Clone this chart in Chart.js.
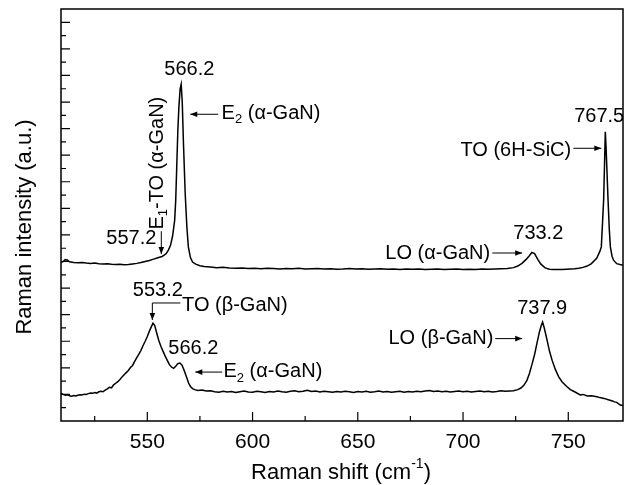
<!DOCTYPE html>
<html>
<head>
<meta charset="utf-8">
<script src="https://cdn.jsdelivr.net/npm/chart.js@4.4.1/dist/chart.umd.min.js"></script>
<style>
  html, body { margin: 0; padding: 0; background: #fff; }
  #wrap { width: 628px; height: 485px; }
</style>
</head>
<body>
<div id="wrap"><canvas id="ramanChart"></canvas></div>
<script>
// Espectro superior (alpha-GaN sobre 6H-SiC)
const upperShift = [
  509, 510, 511, 512, 513, 515, 517, 519, 521, 523,
  525, 527, 529, 531, 533, 535, 537, 539, 541, 543,
  545, 547, 549, 551, 553, 555, 557, 558, 559, 560,
  561, 562, 562.5, 563, 563.5, 564, 564.5, 565, 565.6, 566.1,
  566.6, 567.2, 568, 568.8, 569.5, 570.5, 571.5, 573, 575, 577,
  580, 583, 586, 589, 592, 595, 598, 601, 604, 607,
  610, 613, 616, 619, 622, 625, 628, 631, 634, 637,
  640, 643, 646, 649, 652, 655, 658, 661, 664, 667,
  670, 673, 676, 679, 682, 685, 688, 691, 694, 697,
  700, 703, 706, 709, 712, 715, 718, 721, 724, 726,
  728, 730, 731.5, 732.7, 734, 735.5, 737, 739, 741, 743,
  745, 747, 749, 751, 753, 755, 757, 759, 761, 763.5,
  765, 765.7, 766.3, 766.8, 767.3, 767.6, 768.0, 768.9, 769.5, 770,
  770.8, 771.5, 773, 776
];
const upperIntensity = [
  5.97, 6.00, 6.07, 6.06, 5.99, 5.96, 5.95, 5.96, 5.94, 5.93,
  5.94, 5.92, 5.91, 5.92, 5.90, 5.89, 5.90, 5.88, 5.89, 5.91,
  5.93, 5.96, 6.00, 6.04, 6.09, 6.14, 6.19, 6.24, 6.30, 6.43,
  6.60, 6.95, 7.25, 7.55, 8.30, 9.60, 10.90, 11.80, 12.50, 12.67,
  12.00, 10.40, 8.57, 7.30, 6.55, 6.15, 5.98, 5.90, 5.84, 5.81,
  5.79, 5.77, 5.78, 5.76, 5.75, 5.76, 5.74, 5.75, 5.73, 5.75,
  5.74, 5.72, 5.74, 5.73, 5.75, 5.72, 5.73, 5.74, 5.72, 5.73,
  5.71, 5.72, 5.74, 5.72, 5.73, 5.71, 5.72, 5.73, 5.71, 5.72,
  5.70, 5.72, 5.71, 5.72, 5.70, 5.71, 5.72, 5.70, 5.71, 5.72,
  5.70, 5.71, 5.70, 5.72, 5.71, 5.72, 5.73, 5.74, 5.77, 5.83,
  5.93, 6.08, 6.22, 6.34, 6.30, 6.08, 5.90, 5.76, 5.71, 5.70,
  5.70, 5.70, 5.71, 5.72, 5.73, 5.75, 5.78, 5.83, 5.92, 6.12,
  6.38, 6.55, 7.50, 8.31, 9.90, 10.88, 10.20, 8.31, 7.20, 6.55,
  6.20, 6.05, 5.92, 5.86
];

// Espectro inferior (beta-GaN)
const lowerShift = [
  509, 510, 511, 512, 513, 514, 515, 516, 517, 518,
  519, 520, 521, 522, 523, 524, 525, 526, 527, 528,
  529, 530, 531, 532, 533, 534, 535, 536, 537, 538,
  539, 540, 541, 542, 543, 544, 545, 546, 547, 548,
  549, 550, 551, 552, 552.7, 553.5, 554.5, 555.5, 556.5, 557.5,
  558.5, 559.5, 560.5, 561.5, 562.5, 563.5, 564.5, 565.5, 566.5, 567.3,
  568, 568.8, 569.6, 570.5, 571.5, 572.5, 574, 576, 578, 580,
  582, 584, 586, 588, 590, 592, 594, 596, 598, 600,
  602, 604, 606, 608, 610, 612, 614, 616, 618, 620,
  622, 624, 626, 628, 630, 632, 634, 636, 638, 640,
  642, 644, 646, 648, 650, 652, 654, 656, 658, 660,
  662, 664, 666, 668, 670, 672, 674, 676, 678, 680,
  682, 684, 686, 688, 690, 692, 694, 696, 698, 700,
  702, 704, 706, 708, 710, 712, 714, 716, 718, 720,
  722, 724, 726, 727.5, 729, 730.4, 731.5, 732.7, 734, 735.1,
  736.3, 737.2, 737.8, 738.6, 739.9, 741, 742.3, 743.8, 745.4, 747,
  749.4, 751, 753, 755.7, 757, 759, 761, 763.6, 765, 767,
  769, 771, 772, 773, 774.7, 776
];
const lowerIntensity = [
  1.04, 1.00, 0.97, 0.99, 0.95, 0.93, 0.96, 0.94, 0.97, 0.99,
  0.98, 1.01, 1.00, 1.03, 1.05, 1.04, 1.07, 1.05, 1.10, 1.12,
  1.10, 1.16, 1.21, 1.27, 1.25, 1.36, 1.42, 1.48, 1.56, 1.66,
  1.74, 1.82, 1.90, 2.01, 2.09, 2.24, 2.38, 2.52, 2.66, 2.84,
  3.00, 3.18, 3.38, 3.56, 3.68, 3.60, 3.30, 3.02, 2.80, 2.62,
  2.44, 2.28, 2.12, 2.03, 1.98, 2.06, 2.16, 2.18, 2.10, 1.95,
  1.80, 1.62, 1.43, 1.30, 1.22, 1.18, 1.15, 1.17, 1.13, 1.14,
  1.10, 1.08, 1.12, 1.09, 1.11, 1.07, 1.10, 1.13, 1.09, 1.08,
  1.12, 1.10, 1.07, 1.11, 1.09, 1.13, 1.10, 1.08, 1.12, 1.14,
  1.10, 1.12, 1.16, 1.11, 1.13, 1.09, 1.12, 1.10, 1.08, 1.11,
  1.09, 1.12, 1.10, 1.07, 1.11, 1.09, 1.12, 1.08, 1.10, 1.13,
  1.09, 1.11, 1.08, 1.10, 1.12, 1.08, 1.11, 1.09, 1.12, 1.10,
  1.13, 1.15, 1.11, 1.13, 1.10, 1.12, 1.09, 1.11, 1.13, 1.10,
  1.12, 1.09, 1.11, 1.13, 1.10, 1.12, 1.09, 1.11, 1.14, 1.12,
  1.13, 1.14, 1.18, 1.24, 1.35, 1.54, 1.78, 2.11, 2.50, 2.92,
  3.35, 3.60, 3.72, 3.50, 3.05, 2.65, 2.29, 1.95, 1.67, 1.48,
  1.29, 1.18, 1.10, 0.98, 1.00, 0.94, 0.95, 0.91, 0.88, 0.85,
  0.80, 0.75, 0.72, 0.70, 0.60, 0.58
];

const xTickLabels = [550, 600, 650, 700, 750];
const xMinorTicks = [525, 575, 625, 675, 725];

const FONT = "'Liberation Sans', Arial, sans-serif";

// Etiquetas de los picos: partes de texto, ancla en unidades de datos
const peakLabels = [
  { parts: [['566.2']], x: 570.0, y: 13.23, align: 'center' },
  { parts: [['E'], ['2', 'sub'], [' (α-GaN)']], x: 585.3, y: 11.58, align: 'left' },
  { parts: [['E'], ['1', 'sub'], ['-TO (α-GaN)']], x: 554.75, y: 9.70, align: 'center', vertical: true },
  { parts: [['557.2']], x: 542.4, y: 6.88, align: 'center' },
  { parts: [['767.5']], x: 764.7, y: 11.47, align: 'center' },
  { parts: [['TO (6H-SiC)']], x: 751.4, y: 10.19, align: 'right' },
  { parts: [['LO (α-GaN)']], x: 712.9, y: 6.32, align: 'right' },
  { parts: [['733.2']], x: 735.75, y: 7.07, align: 'center' },
  { parts: [['553.2']], x: 555.0, y: 4.92, align: 'center' },
  { parts: [['TO (β-GaN)']], x: 566.5, y: 4.36, align: 'left' },
  { parts: [['566.2']], x: 571.85, y: 2.74, align: 'center' },
  { parts: [['E'], ['2', 'sub'], [' (α-GaN)']], x: 586.2, y: 1.86, align: 'left' },
  { parts: [['737.9']], x: 737.6, y: 4.25, align: 'center' },
  { parts: [['LO (β-GaN)']], x: 714.4, y: 3.12, align: 'right' }
];

// Flechas: la punta va en el último punto
const peakArrows = [
  [[583.7, 11.54], [570.4, 11.54]],
  [[556.65, 7.14], [556.65, 6.28]],
  [[752.4, 10.26], [765.7, 10.26]],
  [[713.9, 6.32], [728.1, 6.32]],
  [[565.7, 4.44], [552.4, 4.44], [552.4, 3.80]],
  [[585.6, 1.84], [572.8, 1.84]],
  [[715.3, 3.10], [728.1, 3.10]]
];

function partFont(p, size) {
  return p[1] ? `${Math.round(size * 0.65)}px ${FONT}` : `${size}px ${FONT}`;
}

function drawRich(ctx, x, y, parts, align, size) {
  ctx.textBaseline = 'middle';
  ctx.textAlign = 'left';
  let total = 0;
  parts.forEach(p => { ctx.font = partFont(p, size); total += ctx.measureText(p[0]).width; });
  let cx = x;
  if (align === 'center') cx = x - total / 2;
  if (align === 'right') cx = x - total;
  parts.forEach(p => {
    ctx.font = partFont(p, size);
    let dy = 0;
    if (p[1] === 'sub') dy = size * 0.32;
    if (p[1] === 'sup') dy = -size * 0.42;
    ctx.fillText(p[0], cx, y + dy);
    cx += ctx.measureText(p[0]).width;
  });
}

function drawArrow(ctx, pts) {
  ctx.beginPath();
  ctx.moveTo(pts[0][0], pts[0][1]);
  for (let i = 1; i < pts.length; i++) ctx.lineTo(pts[i][0], pts[i][1]);
  ctx.lineWidth = 1;
  ctx.stroke();
  const [x1, y1] = pts[pts.length - 2];
  const [x2, y2] = pts[pts.length - 1];
  const ang = Math.atan2(y2 - y1, x2 - x1);
  const len = 7, half = 2.8;
  ctx.beginPath();
  ctx.moveTo(x2, y2);
  ctx.lineTo(x2 - len * Math.cos(ang) + half * Math.sin(ang), y2 - len * Math.sin(ang) - half * Math.cos(ang));
  ctx.lineTo(x2 - len * Math.cos(ang) - half * Math.sin(ang), y2 - len * Math.sin(ang) + half * Math.cos(ang));
  ctx.closePath();
  ctx.fill();
}

const ramanDecor = {
  id: 'ramanDecor',
  afterDatasetsDraw(chart) {
    const { ctx, chartArea: a, scales: { x, y } } = chart;
    ctx.save();
    ctx.fillStyle = '#000';
    ctx.strokeStyle = '#000';

    // Etiquetas y flechas, recortadas al área del gráfico
    ctx.save();
    ctx.beginPath();
    ctx.rect(a.left, a.top, a.right - a.left, a.bottom - a.top);
    ctx.clip();
    peakLabels.forEach(l => {
      const lx = x.getPixelForValue(l.x);
      const ly = y.getPixelForValue(l.y);
      if (l.vertical) {
        ctx.save();
        ctx.translate(lx, ly);
        ctx.rotate(-Math.PI / 2);
        drawRich(ctx, 0, 0, l.parts, 'center', 20);
        ctx.restore();
      } else {
        drawRich(ctx, lx, ly, l.parts, l.align, 20);
      }
    });
    peakArrows.forEach(arr => drawArrow(ctx, arr.map(p => [x.getPixelForValue(p[0]), y.getPixelForValue(p[1])])));
    ctx.restore();

    // Marco
    ctx.lineWidth = 1.5;
    ctx.strokeRect(a.left, a.top, a.right - a.left, a.bottom - a.top);

    // Ticks hacia dentro
    ctx.lineWidth = 1.2;
    ctx.beginPath();
    xTickLabels.forEach(v => { const p = x.getPixelForValue(v); ctx.moveTo(p, a.bottom); ctx.lineTo(p, a.bottom - 9); });
    xMinorTicks.forEach(v => { const p = x.getPixelForValue(v); ctx.moveTo(p, a.bottom); ctx.lineTo(p, a.bottom - 5); });
    for (let v = 0.5; v < y.max; v += 0.5) {
      const p = y.getPixelForValue(v);
      const len = Number.isInteger(v) ? 9 : 5;
      ctx.moveTo(a.left, p);
      ctx.lineTo(a.left + len, p);
    }
    ctx.stroke();

    // Títulos de los ejes
    ctx.save();
    ctx.translate(25, (a.top + a.bottom) / 2 + 12);
    ctx.rotate(-Math.PI / 2);
    drawRich(ctx, 0, 0, [['Raman intensity (a.u.)']], 'center', 22);
    ctx.restore();
    drawRich(ctx, 341, 473, [['Raman shift (cm'], ['-1', 'sup'], [')']], 'center', 22);

    ctx.restore();
  }
};

const ctx = document.getElementById('ramanChart');
new Chart(ctx, {
  type: 'line',
  data: {
    datasets: [
      {
        data: upperShift.map((s, i) => ({ x: s, y: upperIntensity[i] })),
        borderColor: '#000',
        borderWidth: 1.5,
        pointRadius: 0,
        tension: 0
      },
      {
        data: lowerShift.map((s, i) => ({ x: s, y: lowerIntensity[i] })),
        borderColor: '#000',
        borderWidth: 1.5,
        pointRadius: 0,
        tension: 0
      }
    ]
  },
  options: {
    responsive: true,
    maintainAspectRatio: false,
    animation: false,
    layout: { padding: { top: 9, right: 5, left: 0, bottom: 0 } },
    plugins: { legend: { display: false }, tooltip: { enabled: false } },
    scales: {
      x: {
        type: 'linear',
        min: 509,
        max: 776,
        grid: { display: false, drawTicks: false },
        border: { display: false },
        afterBuildTicks: (scale) => { scale.ticks = xTickLabels.map(v => ({ value: v })); },
        afterFit: (scale) => { scale.height = 64; },
        ticks: {
          color: '#000',
          padding: 9,
          maxRotation: 0,
          font: { family: FONT, size: 21 },
          callback: (v) => String(v)
        }
      },
      y: {
        min: 0,
        max: 15.5,
        grid: { display: false, drawTicks: false },
        border: { display: false },
        afterFit: (scale) => { scale.width = 61; },
        ticks: { display: false }
      }
    }
  },
  plugins: [ramanDecor]
});
</script>
</body>
</html>
